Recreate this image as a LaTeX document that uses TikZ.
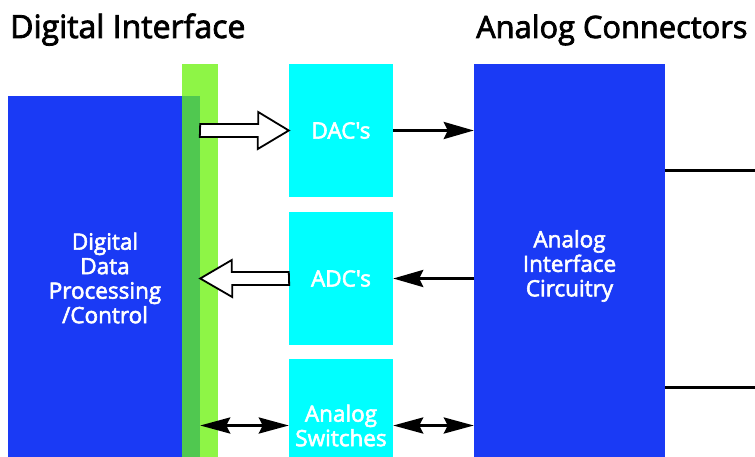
\documentclass[tikz,border=0pt]{standalone}
\usepackage{fontspec}
\setmainfont{Open Sans}
\newfontfamily\labelfont{Open Sans}[FakeBold=2.5]
\usepackage{tikz}
\usetikzlibrary{arrows.meta}
\usetikzlibrary{positioning,calc}
\definecolor{boxblue}{RGB}{26,58,245}
\definecolor{boxcyan}{RGB}{0,255,255}
\definecolor{barlight}{RGB}{142,245,70}
\definecolor{bardark}{RGB}{80,200,80}
\tikzset{
    block/.style={
        rectangle,
        inner sep=0pt,
        text=white,
        align=center,
        font=\labelfont\fontsize{22.5}{24.5}\selectfont
    },
    bigblock/.style={block, fill=boxblue},
    conv/.style={block, fill=boxcyan, minimum width=104pt, minimum height=133pt},
    heading/.style={anchor=base west, inner sep=0pt, font=\labelfont\fontsize{32}{36}\selectfont},
    hollow/.style={draw, fill=white, line width=1.8pt, line join=miter},
    signal/.style={line width=3pt, -{Stealth[length=30pt, width=17pt, inset=4pt]}},
    both/.style={line width=3pt, {Stealth[length=30pt, width=16pt, inset=4pt]}-{Stealth[length=30pt, width=16pt, inset=4pt]}},
    wire/.style={line width=3pt}
}

\begin{document}
\begin{tikzpicture}[x=1pt, y=-1pt]
    \useasboundingbox (0,0) rectangle (755,457);
    \clip (0,0) rectangle (755,457);

    % Headings
    \node[heading] (dighead) at (10,38) {Digital Interface};
    \node[heading, font=\labelfont\fontsize{30.8}{36}\selectfont] (anahead) at (476,38) {Analog Connectors};

    % Main blocks
    \node[bigblock, minimum width=192pt, minimum height=361pt] (dp) at (104,276.5) {};
    \node[fill=barlight, inner sep=0pt, minimum width=36pt, minimum height=393pt] (bar) at (200,260.5) {};
    \fill[bardark] (bar.west |- dp.north) rectangle (dp.south east);
    \node[block] (dptext) at (105,278) {Digital\\Data\\Processing\\/Control};
    \node[bigblock, minimum width=191pt, minimum height=404pt] (aic) at (569.5,266) {Analog\\Interface\\Circuitry};

    % Converters
    \node[conv] (dac) at (341,130.5) {DAC's};
    \node[conv] (adc) at (341,278.5) {ADC's};
    \node[conv] (sw) at (341,425.5) {Analog\\Switches};

    % Wide arrows to and from the bus
    \draw[hollow] (dp.east |- dac) ++(0,-6.5) -- ++(58,0) -- ++(0,-12) -- (dac.west)
        -- ++(-31,18.5) -- ++(0,-12) -- ++(-58,0) -- cycle;
    \draw[hollow] (adc.west) ++(0,-6.5) -- ++(-57,0) -- ++(0,-12) -- (dp.east |- adc)
        -- ++(32,18.5) -- ++(0,-12) -- ++(57,0) -- cycle;

    % Signal arrows
    \draw[signal] (dac.east) -- (dac.east -| aic.west);
    \draw[signal] (adc.east -| aic.west) -- (adc.east);
    \draw[both] (sw.west -| dp.east) -- (sw.west);
    \draw[both] (sw.east) -- (sw.east -| aic.west);

    % Connector lines
    \coordinate (out1) at (755,171);
    \coordinate (out2) at (755,387);
    \draw[wire] (out1 -| aic.east) -- (out1);
    \draw[wire] (out2 -| aic.east) -- (out2);
\end{tikzpicture}
\end{document}
